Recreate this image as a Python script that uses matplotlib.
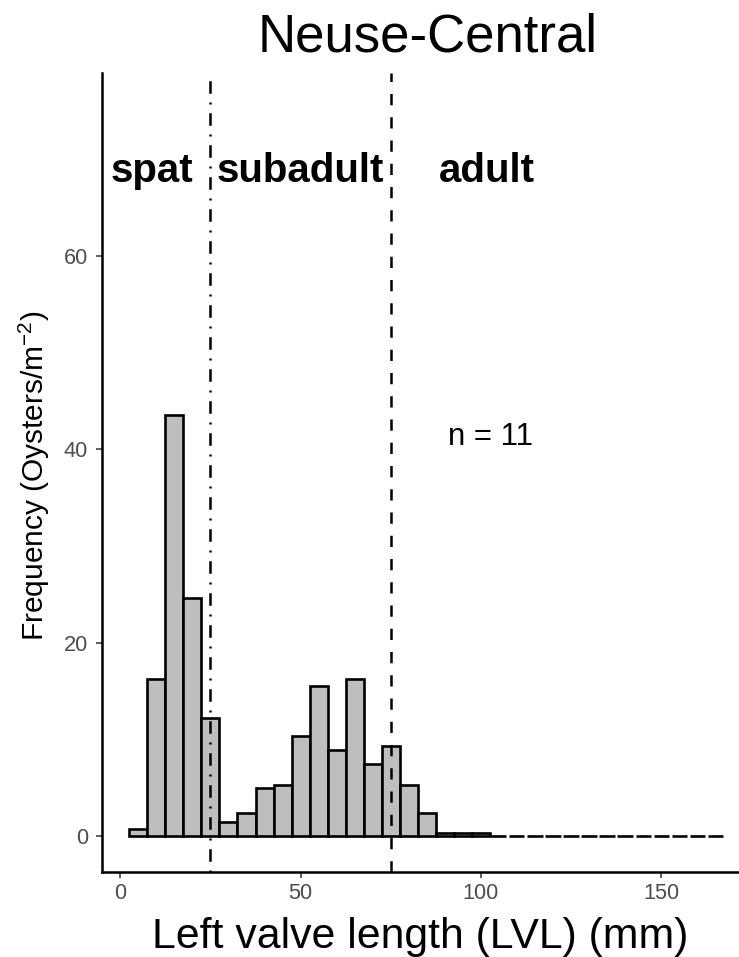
import numpy as np
import matplotlib
matplotlib.use("Agg")
import matplotlib.pyplot as plt

plt.rcParams['font.family'] = ['Liberation Sans', 'DejaVu Sans']
plt.rcParams['mathtext.fontset'] = 'custom'
plt.rcParams['mathtext.rm'] = 'Liberation Sans'
plt.rcParams['mathtext.it'] = 'Liberation Sans:italic'

# size classes: bins of 5 mm, centred on 5, 10, ..., 165
bin_centres = np.arange(5, 170, 5)
density = [0.7, 16.2, 43.6, 24.6, 12.2, 1.5, 2.4, 5.0, 5.3, 10.4,
           15.5, 8.9, 16.2, 7.5, 9.3, 5.3, 2.4, 0.36, 0.36, 0.36,
           0, 0, 0, 0, 0, 0, 0, 0, 0, 0, 0, 0, 0]
n_samples = 11

spat_cut = 25
adult_cut = 75
stage_labels = ['spat', 'subadult', 'adult']
stage_x = [8.8, 49.8, 101.7]

fig = plt.figure(figsize=(7.39, 9.57), dpi=100)
ax = fig.add_axes([0.138, 0.0888, 0.862, 0.8349])

# empty bins get a slightly narrower outline so the baseline reads as dashes
widths = [5.0 if d > 0 else 4.2 for d in density]
bars = ax.bar(bin_centres, density, width=widths, color='#BEBEBE',
              edgecolor='black', linewidth=1.9, zorder=2)

# stage boundaries
ax.axvline(spat_cut, color='black', linewidth=1.8, dashes=(0.8, 3.5, 5.0, 3.5), zorder=3)
ax.axvline(adult_cut, color='black', linewidth=1.8, dashes=(4.5, 4.8), zorder=3)

for lab, x in zip(stage_labels, stage_x):
    ax.text(x, 67.7, lab, ha='center', va='baseline', fontsize=29,
            fontweight='bold')
ax.text(102.6, 41.3, 'n = %d' % n_samples, ha='center', va='center', fontsize=22.5)

ax.set_xlim(-5.08, 171.6)
ax.set_ylim(-3.72, 78.93)
ax.set_xticks([0, 50, 100, 150])
ax.set_yticks([0, 20, 40, 60])

for side in ['top', 'right']:
    ax.spines[side].set_visible(False)
for side in ['left', 'bottom']:
    ax.spines[side].set_linewidth(1.8)
ax.tick_params(axis='both', labelsize=15.7, labelcolor='#4D4D4D',
               color='#333333', width=1.1, length=4.5)
ax.tick_params(axis='y', pad=5.5)
ax.tick_params(axis='x', pad=3.5)

fig.text(0.578, 0.9457, 'Neuse-Central', ha='center', va='baseline', fontsize=38)
fig.text(0.5687, 0.0094, 'Left valve length (LVL) (mm)', ha='center',
         va='baseline', fontsize=30.8)
fig.text(0.047, 0.5026, r'Frequency (Oysters/m$^{-2}$)', rotation=90,
         ha='center', va='center', fontsize=21.5)

fig.savefig('out.png', dpi=100)
